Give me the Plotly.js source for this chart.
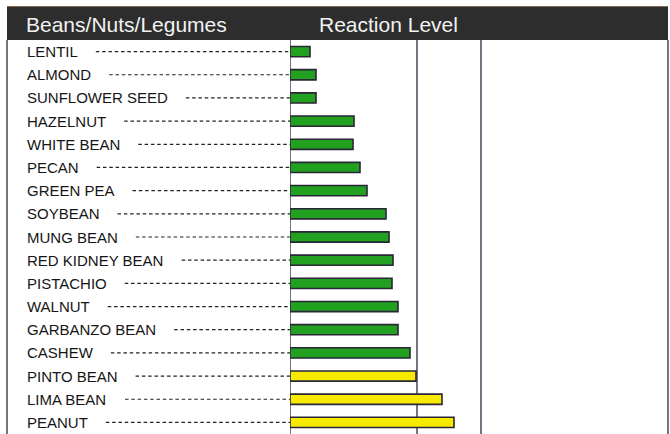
<!DOCTYPE html>
<html>
<head>
<meta charset="utf-8">
<script src="https://cdn.plot.ly/plotly-3.0.1.min.js"></script>
<style>html,body{margin:0;padding:0;background:#fff;}#chart{width:670px;height:434px;}</style>
</head>
<body>
<div id="chart"></div>
<script>
// ---- data ----
var foods = ["LENTIL","ALMOND","SUNFLOWER SEED","HAZELNUT","WHITE BEAN","PECAN","GREEN PEA","SOYBEAN","MUNG BEAN","RED KIDNEY BEAN","PISTACHIO","WALNUT","GARBANZO BEAN","CASHEW","PINTO BEAN","LIMA BEAN","PEANUT"];
var reaction = [20, 26, 26, 64, 63, 70, 77, 96, 99, 103, 102, 108, 108, 120, 126, 152, 164];
var group = ["low","low","low","low","low","low","low","low","low","low","low","low","low","low","high","high","high"];
var levelLines = [127, 191];
var xMax = 378;
var headerLeft = "Beans/Nuts/Legumes";
var headerRight = "Reaction Level";

// ---- layout constants ----
var W = 670, H = 434, ML = 290, MR = 2, MT = 40, MB = 0;
var plotW = W - ML - MR, plotH = H - MT - MB;
function px2paperX(px){ return (px - ML) / plotW; }
function py2paperY(py){ return 1 - (py - MT) / plotH; }

var green = "#22a01f", yellow = "#f7ea00", edge = "#2a2638", frame = "#4a4258";
var labelFont = "Liberation Sans, Arial, sans-serif";

var cv = document.createElement("canvas").getContext("2d");
cv.font = "15px 'Liberation Sans', Arial, sans-serif";

var shapes = [];
var annotations = [];

// header band
shapes.push({type:"rect", xref:"paper", yref:"paper", x0:px2paperX(7), x1:px2paperX(668), y0:py2paperY(40), y1:py2paperY(7), fillcolor:"#2d2d2d", line:{width:0}, layer:"above"});
shapes.push({type:"line", xref:"paper", yref:"paper", x0:px2paperX(7), x1:px2paperX(668), y0:py2paperY(6.5), y1:py2paperY(6.5), line:{color:"#8a6a50", width:1}, layer:"above"});
// frame borders
shapes.push({type:"line", xref:"paper", yref:"paper", x0:px2paperX(7), x1:px2paperX(7), y0:0, y1:py2paperY(40), line:{color:frame, width:1.5}, layer:"above"});
shapes.push({type:"line", xref:"paper", yref:"paper", x0:px2paperX(668), x1:px2paperX(668), y0:0, y1:py2paperY(40), line:{color:frame, width:1.5}, layer:"above"});
// axis line at zero
shapes.push({type:"line", xref:"x", yref:"paper", x0:0, x1:0, y0:0, y1:1, line:{color:frame, width:1.5}, layer:"below"});
// level lines
levelLines.forEach(function(v){
  shapes.push({type:"line", xref:"x", yref:"paper", x0:v, x1:v, y0:0, y1:1, line:{color:frame, width:1.5}, layer:"below"});
});

// labels and dashed leaders
foods.forEach(function(name, i){
  annotations.push({xref:"paper", yref:"y", x:px2paperX(25), y:name, xanchor:"left", yanchor:"middle", text:name, showarrow:false, font:{family:labelFont, size:15, color:"#151515"}});
  var w = cv.measureText(name).width;
  var start = 27 + w + 18;
  shapes.push({type:"line", xref:"paper", yref:"y", x0:px2paperX(start), x1:0, y0:name, y1:name, line:{color:"#222", width:1.2, dash:"3.5px,2.8px"}, layer:"below"});
});

// header texts
annotations.push({xref:"paper", yref:"paper", x:px2paperX(24), y:py2paperY(24), xanchor:"left", yanchor:"middle", text:headerLeft, showarrow:false, font:{family:labelFont, size:21, color:"#f2f2f2"}});
annotations.push({xref:"paper", yref:"paper", x:px2paperX(317), y:py2paperY(24), xanchor:"left", yanchor:"middle", text:headerRight, showarrow:false, font:{family:labelFont, size:21, color:"#f2f2f2"}});

var trace = {
  type:"bar", orientation:"h", y:foods, x:reaction, width:0.44,
  marker:{color:group.map(function(g){return g==="high"?yellow:green;}), line:{color:edge, width:1.6}},
  hoverinfo:"x+y"
};

var layout = {
  width:W, height:H,
  margin:{l:ML, r:MR, t:MT, b:MB, pad:0},
  paper_bgcolor:"#ffffff", plot_bgcolor:"#ffffff",
  showlegend:false,
  xaxis:{range:[0, xMax], showgrid:false, zeroline:false, showticklabels:false, ticks:"", showline:false, fixedrange:true},
  yaxis:{type:"category", autorange:"reversed", showgrid:false, zeroline:false, showticklabels:false, ticks:"", showline:false, fixedrange:true},
  shapes:shapes,
  annotations:annotations
};

Plotly.newPlot("chart", [trace], layout, {displayModeBar:false, staticPlot:true});
</script>
</body>
</html>
